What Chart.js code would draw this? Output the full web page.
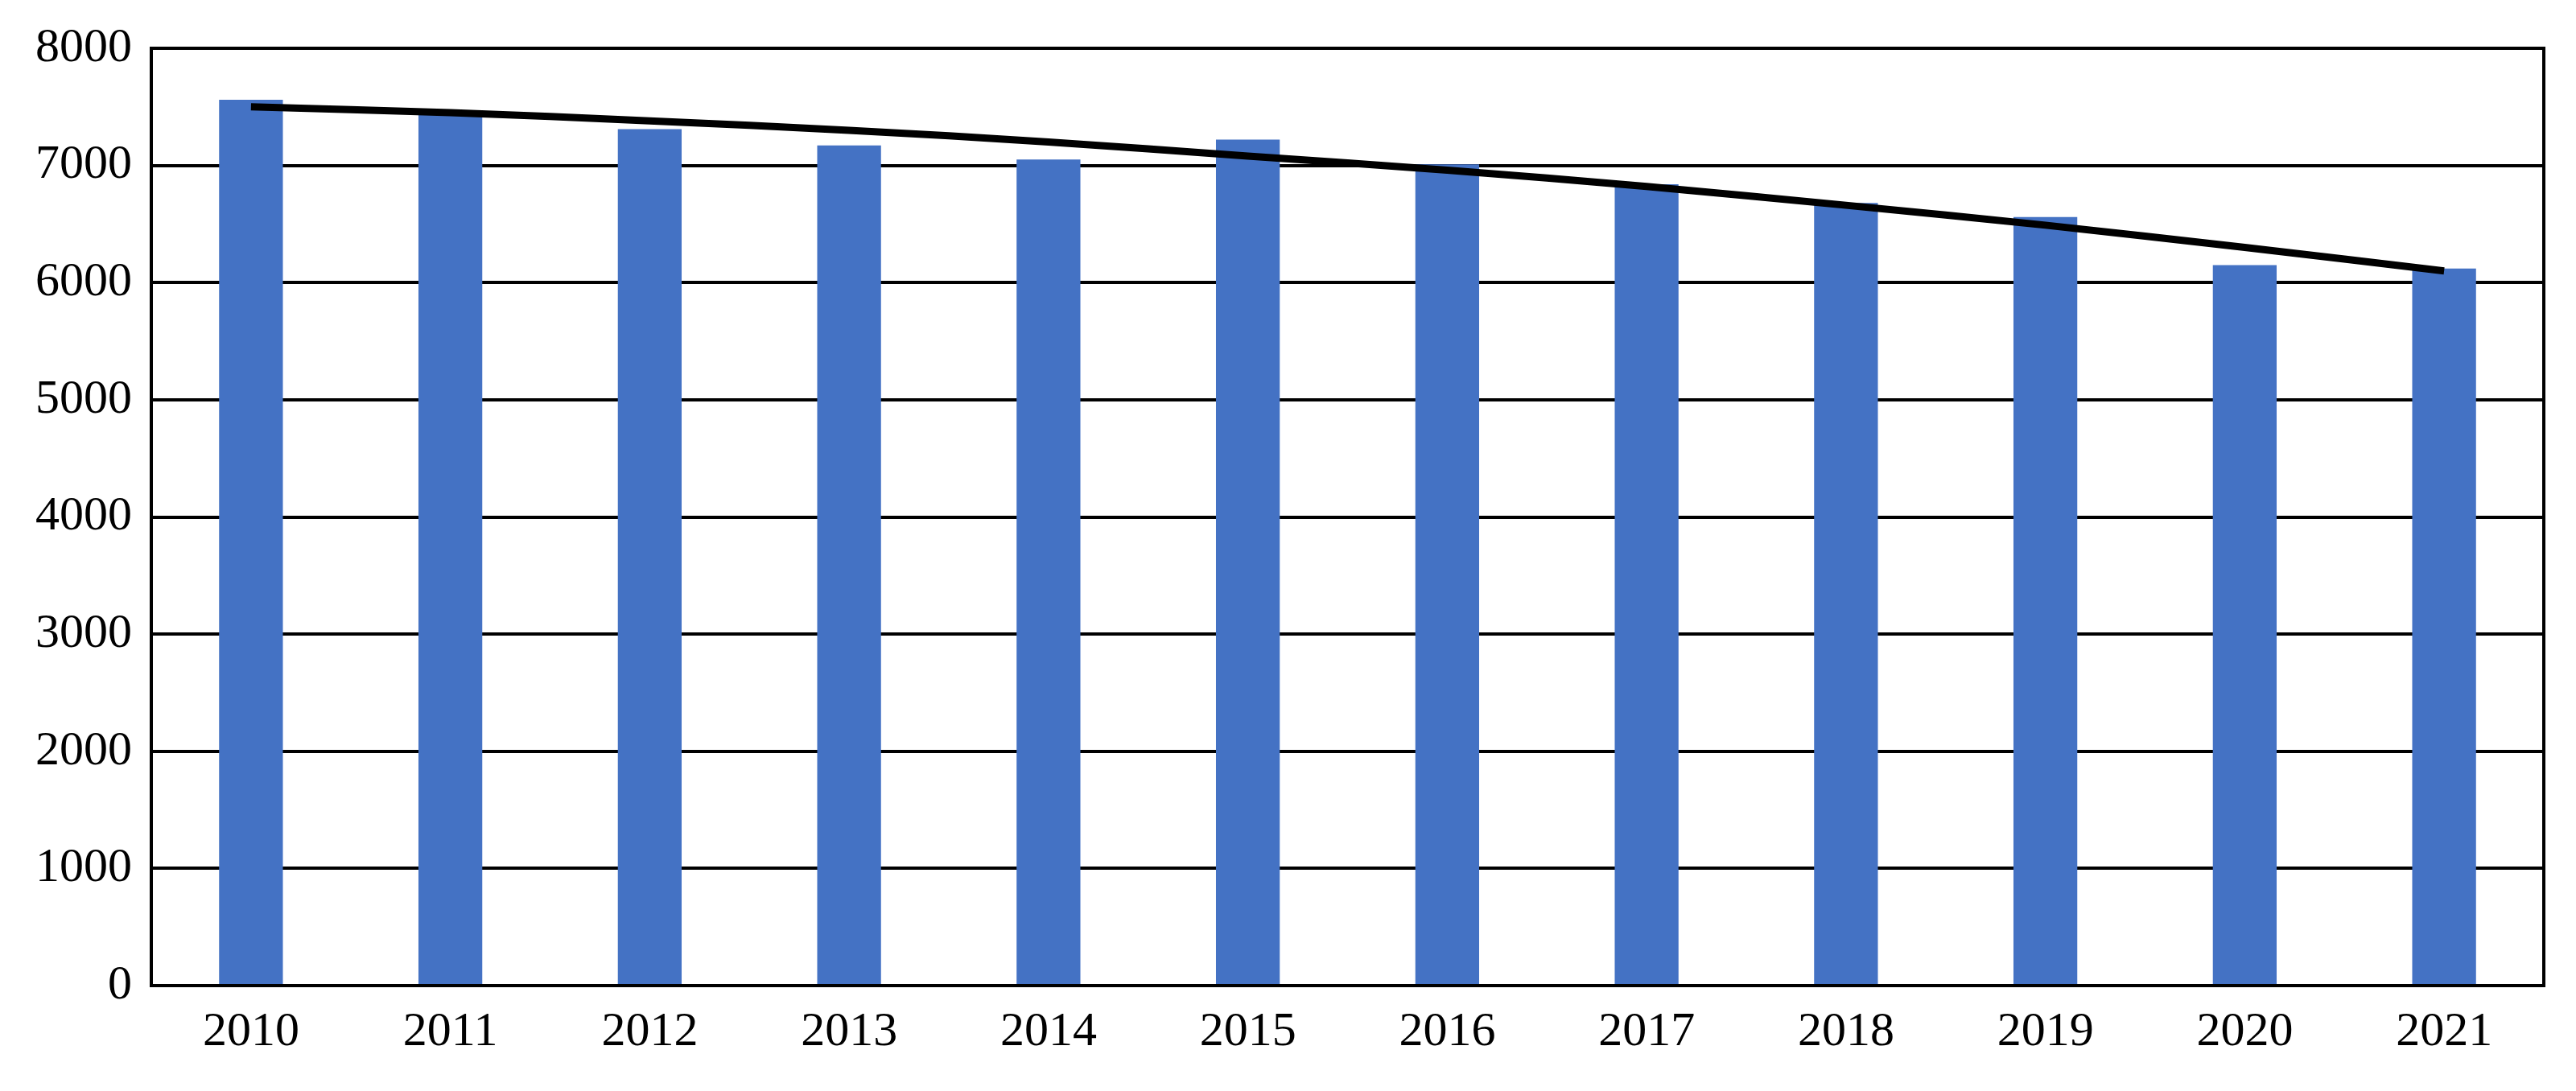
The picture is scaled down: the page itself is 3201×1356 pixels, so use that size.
<!DOCTYPE html>
<html><head><meta charset="utf-8">
<script src="https://cdn.jsdelivr.net/npm/chart.js@4"></script>
<style>html,body{margin:0;padding:0;background:#fff}#w{width:3201px;height:1356px}</style>
</head><body><div id="w"><canvas id="c"></canvas></div>
<script>
const categories=['2010','2011','2012','2013','2014','2015','2016','2017','2018','2019','2020','2021'];
const barValues=[7560,7470,7310,7170,7050,7220,7010,6840,6680,6560,6150,6120];
const trendValues=[7500,7450,7380,7300,7200,7080,6960,6820,6660,6490,6300,6100];
const yTicks=[0,1000,2000,3000,4000,5000,6000,7000,8000];
Chart.defaults.font.family='"Liberation Serif","Times New Roman",serif';
Chart.defaults.font.size=60;
Chart.defaults.color='#000';
new Chart(document.getElementById('c'),{
 data:{labels:categories,datasets:[
  {type:'line',data:trendValues,borderColor:'#000',borderWidth:9,pointRadius:0,tension:0.4,order:0},
  {type:'bar',data:barValues,backgroundColor:'#4472C4',categoryPercentage:1,barPercentage:0.32,order:1}
 ]},
 options:{responsive:true,maintainAspectRatio:false,animation:false,
  layout:{padding:{top:35,right:40,left:20,bottom:15}},
  plugins:{legend:{display:false},tooltip:{enabled:false}},
  scales:{
   x:{grid:{display:false,drawTicks:false},border:{color:'#000',width:4},ticks:{padding:22}},
   y:{min:0,max:8000,afterBuildTicks:a=>{a.ticks=yTicks.map(v=>({value:v}))},
      grid:{color:'#000',lineWidth:4,drawTicks:false},border:{color:'#000',width:4},
      ticks:{padding:24,callback:v=>String(v)}}
  }},
 plugins:[{id:'box',afterDraw(ch){const a=ch.chartArea,x=ch.ctx;x.save();x.strokeStyle='#000';x.lineWidth=4;x.strokeRect(a.left,a.top,a.right-a.left,a.bottom-a.top);x.restore();}}]
});
</script></body></html>
